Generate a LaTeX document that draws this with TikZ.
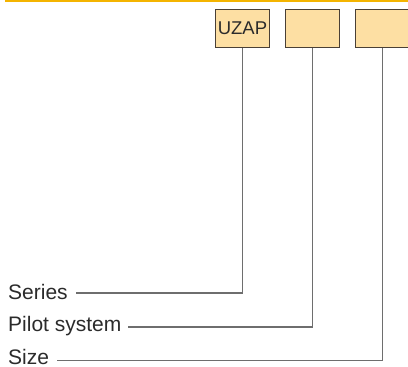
\documentclass[tikz,border=0pt]{standalone}
\usepackage{fontspec}
\setmainfont{Liberation Sans}
\definecolor{topline}{HTML}{F4B400}
\definecolor{boxfill}{HTML}{FDDFA3}
\definecolor{boxline}{HTML}{4A4036}
\definecolor{conn}{HTML}{6E6E6E}
\definecolor{txt}{HTML}{2B2B2B}
\begin{document}
\begin{tikzpicture}[x=1pt,y=-1pt,
  codebox/.style={draw=boxline,line width=0.9pt,fill=boxfill,minimum width=54pt,minimum height=38pt,inner sep=0pt,text=txt,font=\fontsize{18.5}{20}\selectfont},
  lbl/.style={anchor=base west,inner sep=0pt,text=txt,font=\fontsize{21}{23}\selectfont},
  leader/.style={draw=conn,line width=1.1pt}]
\useasboundingbox (0,0) rectangle (408,367);
\fill[topline] (5,0) rectangle (408,1.5);
\node[codebox] (b1) at (242.5,28.6) {UZAP};
\node[codebox] (b2) at (312.5,28.6) {};
\node[codebox] (b3) at (382.5,28.6) {};
\node[lbl] (series) at (8,299.5) {Series};
\node[lbl] (pilot) at (8,331.5) {Pilot system};
\node[lbl] (size) at (8,364.3) {Size};
\coordinate (s1) at (76,293);
\coordinate (s2) at (128,327);
\coordinate (s3) at (57,360.5);
\draw[leader] (s1) -| (b1.south);
\draw[leader] (s2) -| (b2.south);
\draw[leader] (s3) -| (b3.south);
\end{tikzpicture}
\end{document}
